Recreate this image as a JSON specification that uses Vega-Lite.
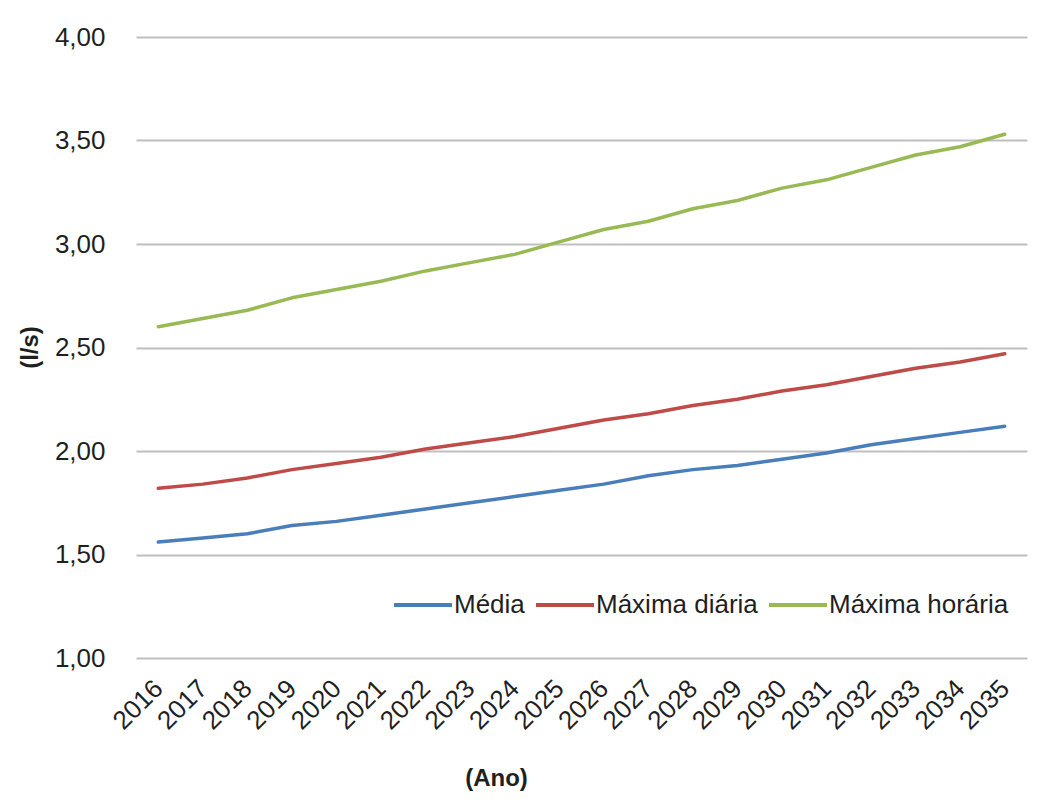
{
  "$schema": "https://vega.github.io/schema/vega-lite/v6.json",
  "autosize": {"type": "none"},
  "width": 891,
  "height": 621,
  "padding": {"left": 136, "top": 37, "right": 19, "bottom": 145},
  "background": "#ffffff",
  "config": {
    "font": "Liberation Sans",
    "locale": {
      "number": {"decimal": ",", "thousands": ".", "grouping": [3], "currency": ["R$", ""]}
    },
    "view": {"stroke": null}
  },
  "data": {
    "values": [
      {"ano": "2016", "serie": "Média", "vazao": 1.56},
      {"ano": "2017", "serie": "Média", "vazao": 1.58},
      {"ano": "2018", "serie": "Média", "vazao": 1.60},
      {"ano": "2019", "serie": "Média", "vazao": 1.64},
      {"ano": "2020", "serie": "Média", "vazao": 1.66},
      {"ano": "2021", "serie": "Média", "vazao": 1.69},
      {"ano": "2022", "serie": "Média", "vazao": 1.72},
      {"ano": "2023", "serie": "Média", "vazao": 1.75},
      {"ano": "2024", "serie": "Média", "vazao": 1.78},
      {"ano": "2025", "serie": "Média", "vazao": 1.81},
      {"ano": "2026", "serie": "Média", "vazao": 1.84},
      {"ano": "2027", "serie": "Média", "vazao": 1.88},
      {"ano": "2028", "serie": "Média", "vazao": 1.91},
      {"ano": "2029", "serie": "Média", "vazao": 1.93},
      {"ano": "2030", "serie": "Média", "vazao": 1.96},
      {"ano": "2031", "serie": "Média", "vazao": 1.99},
      {"ano": "2032", "serie": "Média", "vazao": 2.03},
      {"ano": "2033", "serie": "Média", "vazao": 2.06},
      {"ano": "2034", "serie": "Média", "vazao": 2.09},
      {"ano": "2035", "serie": "Média", "vazao": 2.12},
      {"ano": "2016", "serie": "Máxima diária", "vazao": 1.82},
      {"ano": "2017", "serie": "Máxima diária", "vazao": 1.84},
      {"ano": "2018", "serie": "Máxima diária", "vazao": 1.87},
      {"ano": "2019", "serie": "Máxima diária", "vazao": 1.91},
      {"ano": "2020", "serie": "Máxima diária", "vazao": 1.94},
      {"ano": "2021", "serie": "Máxima diária", "vazao": 1.97},
      {"ano": "2022", "serie": "Máxima diária", "vazao": 2.01},
      {"ano": "2023", "serie": "Máxima diária", "vazao": 2.04},
      {"ano": "2024", "serie": "Máxima diária", "vazao": 2.07},
      {"ano": "2025", "serie": "Máxima diária", "vazao": 2.11},
      {"ano": "2026", "serie": "Máxima diária", "vazao": 2.15},
      {"ano": "2027", "serie": "Máxima diária", "vazao": 2.18},
      {"ano": "2028", "serie": "Máxima diária", "vazao": 2.22},
      {"ano": "2029", "serie": "Máxima diária", "vazao": 2.25},
      {"ano": "2030", "serie": "Máxima diária", "vazao": 2.29},
      {"ano": "2031", "serie": "Máxima diária", "vazao": 2.32},
      {"ano": "2032", "serie": "Máxima diária", "vazao": 2.36},
      {"ano": "2033", "serie": "Máxima diária", "vazao": 2.40},
      {"ano": "2034", "serie": "Máxima diária", "vazao": 2.43},
      {"ano": "2035", "serie": "Máxima diária", "vazao": 2.47},
      {"ano": "2016", "serie": "Máxima horária", "vazao": 2.60},
      {"ano": "2017", "serie": "Máxima horária", "vazao": 2.64},
      {"ano": "2018", "serie": "Máxima horária", "vazao": 2.68},
      {"ano": "2019", "serie": "Máxima horária", "vazao": 2.74},
      {"ano": "2020", "serie": "Máxima horária", "vazao": 2.78},
      {"ano": "2021", "serie": "Máxima horária", "vazao": 2.82},
      {"ano": "2022", "serie": "Máxima horária", "vazao": 2.87},
      {"ano": "2023", "serie": "Máxima horária", "vazao": 2.91},
      {"ano": "2024", "serie": "Máxima horária", "vazao": 2.95},
      {"ano": "2025", "serie": "Máxima horária", "vazao": 3.01},
      {"ano": "2026", "serie": "Máxima horária", "vazao": 3.07},
      {"ano": "2027", "serie": "Máxima horária", "vazao": 3.11},
      {"ano": "2028", "serie": "Máxima horária", "vazao": 3.17},
      {"ano": "2029", "serie": "Máxima horária", "vazao": 3.21},
      {"ano": "2030", "serie": "Máxima horária", "vazao": 3.27},
      {"ano": "2031", "serie": "Máxima horária", "vazao": 3.31},
      {"ano": "2032", "serie": "Máxima horária", "vazao": 3.37},
      {"ano": "2033", "serie": "Máxima horária", "vazao": 3.43},
      {"ano": "2034", "serie": "Máxima horária", "vazao": 3.47},
      {"ano": "2035", "serie": "Máxima horária", "vazao": 3.53}
    ]
  },
  "mark": {"type": "line", "strokeWidth": 3.5, "strokeCap": "round", "strokeJoin": "round"},
  "encoding": {
    "x": {
      "field": "ano",
      "type": "ordinal",
      "scale": {"type": "point", "padding": 0.5},
      "axis": {
        "title": "(Ano)",
        "titleFontSize": 24,
        "titleFontWeight": "bold",
        "titleColor": "#1f1f1f",
        "titleX": 360,
        "titleY": 120,
        "titleAlign": "center",
        "titleBaseline": "middle",
        "labelAngle": -45,
        "labelAlign": "right",
        "labelBaseline": "middle",
        "labelFontSize": 26,
        "labelColor": "#1f1f1f",
        "labelPadding": 26,
        "labelOverlap": false,
        "domain": false,
        "ticks": false,
        "grid": false
      }
    },
    "y": {
      "field": "vazao",
      "type": "quantitative",
      "scale": {"domain": [1, 4], "nice": false, "zero": false},
      "axis": {
        "title": "(l/s)",
        "titleFontSize": 24,
        "titleFontWeight": "bold",
        "titleColor": "#1f1f1f",
        "titleAngle": -90,
        "titleX": -106,
        "titleY": 310,
        "titleAlign": "center",
        "titleBaseline": "middle",
        "values": [1, 1.5, 2, 2.5, 3, 3.5, 4],
        "format": ".2f",
        "labelFontSize": 26,
        "labelColor": "#1f1f1f",
        "labelPadding": 31,
        "domain": false,
        "ticks": false,
        "grid": true,
        "gridColor": "#bfbfbf",
        "gridWidth": 2
      }
    },
    "color": {
      "field": "serie",
      "type": "nominal",
      "scale": {
        "domain": ["Média", "Máxima diária", "Máxima horária"],
        "range": ["#4a7ebb", "#be4b48", "#98b954"]
      },
      "legend": {
        "title": null,
        "orient": "none",
        "legendX": 256,
        "legendY": 537,
        "direction": "horizontal",
        "columns": 3,
        "symbolType": "stroke",
        "symbolSize": 3364,
        "symbolStrokeWidth": 4,
        "labelFontSize": 26,
        "labelColor": "#1f1f1f",
        "labelLimit": 300,
        "labelOffset": 0,
        "columnPadding": 3
      }
    }
  }
}
